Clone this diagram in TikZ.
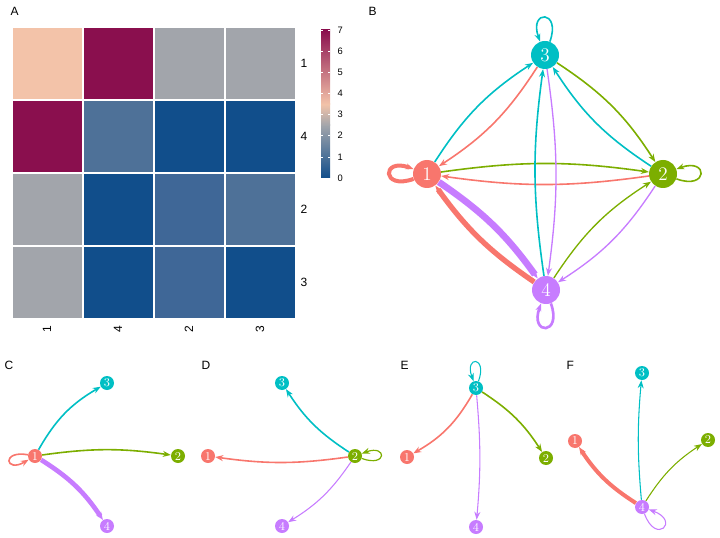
\documentclass[tikz,border=0pt]{standalone}
\usepackage{fontspec}
\setsansfont{Liberation Sans}
\usetikzlibrary{arrows.meta}
\definecolor{cA}{HTML}{F8766D}
\definecolor{cB}{HTML}{7CAE00}
\definecolor{cC}{HTML}{00BFC4}
\definecolor{cD}{HTML}{C77CFF}
\definecolor{hpe}{HTML}{F3C3A9}
\definecolor{hma}{HTML}{8A0F4E}
\definecolor{hgr}{HTML}{A2A5AB}
\definecolor{hsl}{HTML}{4E7198}
\definecolor{hdb}{HTML}{114E8B}
\definecolor{hmd}{HTML}{3F6797}
\begin{document}
\begin{tikzpicture}[x=0.75pt,y=-0.75pt,
  big/.style={circle,minimum size=28*0.75pt,inner sep=0pt,text=white,font=\Large},
  sm/.style={circle,minimum size=14*0.75pt,inner sep=0pt,text=white,font=\small},
  ed/.style={-{Stealth[length=6pt,width=4.5pt]},line width=#1},
  ed/.default=1.2pt,
  lab/.style={font=\sffamily\small,anchor=west},
  cell/.style={draw=white,line width=0.8pt}]
\useasboundingbox (0,0) rectangle (720,538);
% heatmap
\foreach \r/\cols in {0/{hpe,hma,hgr,hgr},1/{hma,hsl,hdb,hdb},2/{hgr,hdb,hmd,hsl},3/{hgr,hdb,hmd,hdb}}{
  \foreach \c [count=\i from 0] in \cols {
    \fill[\c,cell] (12+71*\i,27+73*\r) rectangle ++(71,73);
  }
}
\foreach \t [count=\i from 0] in {1,4,2,3}{
  \node[font=\sffamily\small] (rl\i) at (304,63+73*\i) {\t};
  \node[font=\sffamily\small,rotate=90] (cl\i) at (47+71*\i,329) {\t};
}
% colorbar
\shade[bottom color=hdb,top color=hgr] (321,178) rectangle (330,125);
\shade[bottom color=hgr,top color=hpe] (321,125.5) rectangle (330,104);
\shade[bottom color=hpe,top color=hma] (321,104.5) rectangle (330,30);
\foreach \v in {0,...,7}{
  \draw[white,line width=0.5pt] (321,178-21.14*\v) -- ++(2,0) (330,178-21.14*\v) -- ++(-2,0);
  \node[font=\sffamily\scriptsize,anchor=west] (tk\v) at (333,178-21.14*\v) {\v};
}
% labels
\node[lab] (LA) at (6,11) {A};
\node[lab] (LB) at (364,11) {B};
\node[lab] (LC) at (0,365) {C};
\node[lab] (LD) at (197,365) {D};
\node[lab] (LE) at (396,365) {E};
\node[lab] (LF) at (202+360,365) {F};
% panel B
\node[big,fill=cC] (b3) at (545,55) {3};
\node[big,fill=cA] (b1) at (427,174) {1};
\node[big,fill=cB] (b2) at (663,174) {2};
\node[big,fill=cD] (b4) at (546,290) {4};
\draw[ed,cC] (b1) to[bend left=12] (b3);
\draw[ed,cA] (b3) to[bend left=12] (b1);
\draw[ed,cB] (b3) to[bend left=12] (b2);
\draw[ed,cC] (b2) to[bend left=12] (b3);
\draw[ed,cB] (b1) to[bend left=8] (b2);
\draw[ed,cA] (b2) to[bend left=8] (b1);
\draw[ed,cC] (b4) to[bend left=8] (b3);
\draw[ed=1pt,cD] (b3) to[bend left=8] (b4);
\draw[ed=4pt,cA] (b4) to[bend left=10] (b1);
\draw[ed=5pt,cD] (b1) to[bend left=10] (b4);
\draw[ed=1pt,cB] (b4) to[bend left=12] (b2);
\draw[ed=1pt,cD] (b2) to[bend left=12] (b4);
\draw[ed=3pt,cA] (b1) to[out=200,in=160,looseness=9] (b1);
\draw[ed,cB] (b2) to[out=-20,in=20,looseness=9] (b2);
\draw[ed,cC] (b3) to[out=70,in=110,looseness=9] (b3);
\draw[ed=2pt,cD] (b4) to[out=-70,in=-110,looseness=9] (b4);
% panel C
\node[sm,fill=cA] (c1) at (35,456) {1};
\node[sm,fill=cC] (c3) at (107,383) {3};
\node[sm,fill=cB] (c2) at (178,456) {2};
\node[sm,fill=cD] (c4) at (107,526) {4};
\draw[ed,cC] (c1) to[bend left=15] (c3);
\draw[ed,cB] (c1) to[bend left=8] (c2);
\draw[ed=3.5pt,cD] (c1) to[bend left=12] (c4);
\draw[ed,cA] (c1) to[out=170,in=210,looseness=14] (c1);
% panel D
\node[sm,fill=cA] (d1) at (208,456) {1};
\node[sm,fill=cC] (d3) at (282,383) {3};
\node[sm,fill=cB] (d2) at (355,456) {2};
\node[sm,fill=cD] (d4) at (282,526) {4};
\draw[ed,cC] (d2) to[bend left=12] (d3);
\draw[ed,cA] (d2) to[bend left=8] (d1);
\draw[ed=0.8pt,cD] (d2) to[bend left=12] (d4);
\draw[ed=0.9pt,cB] (d2) to[out=-20,in=20,looseness=14] (d2);
% panel E
\node[sm,fill=cC] (e3) at (476,388) {3};
\node[sm,fill=cA] (e1) at (407,457) {1};
\node[sm,fill=cB] (e2) at (546,458) {2};
\node[sm,fill=cD] (e4) at (476,527) {4};
\draw[ed,cA] (e3) to[bend left=15] (e1);
\draw[ed,cB] (e3) to[bend left=12] (e2);
\draw[ed=0.8pt,cD] (e3) to[bend left=5] (e4);
\draw[ed=0.8pt,cC] (e3) to[out=70,in=110,looseness=14] (e3);
% panel F
\node[sm,fill=cC] (f3) at (642,373) {3};
\node[sm,fill=cA] (f1) at (575,441) {1};
\node[sm,fill=cB] (f2) at (708,440) {2};
\node[sm,fill=cD] (f4) at (642,507) {4};
\draw[ed=3pt,cA] (f4) to[bend left=12] (f1);
\draw[ed=0.8pt,cC] (f4) to[bend left=5] (f3);
\draw[ed=0.8pt,cB] (f4) to[bend left=12] (f2);
\draw[ed=0.8pt,cD] (f4) to[out=-70,in=-20,looseness=14] (f4);
\end{tikzpicture}
\end{document}
